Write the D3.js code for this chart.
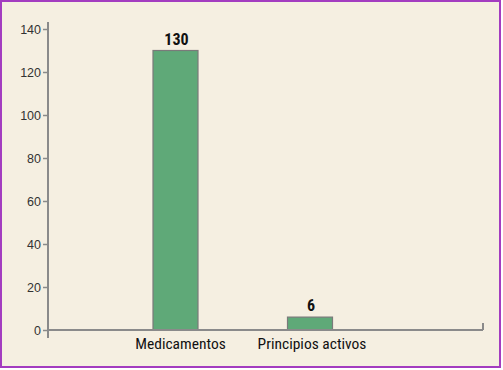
<!DOCTYPE html>
<html><head><meta charset="utf-8">
<script src="https://cdn.jsdelivr.net/npm/d3@7"></script>
<style>
html,body{margin:0;padding:0;background:#fff;}
svg{display:block;}
</style></head>
<body>
<script>
const categories = ["Medicamentos", "Principios activos"];
const values = [130, 6];
const yTicks = [0, 20, 40, 60, 80, 100, 120, 140];

const W = 503, H = 370;
const svg = d3.select("body").append("svg").attr("width", W).attr("height", H);
svg.append("rect").attr("x", 1).attr("y", 1).attr("width", 499).attr("height", 366)
  .attr("fill", "#f5efe1").attr("stroke", "#a33cc0").attr("stroke-width", 2);

const font = "'Liberation Sans Narrow','Arial Narrow','Roboto Condensed',sans-serif";
const y = d3.scaleLinear().domain([0, 140]).range([330, 29]);
const x = d3.scalePoint().domain(categories).range([175.5, 310]);
const barW = 45;
const axisX = 48, axisEnd = 483;

// y axis
const yAxis = svg.append("g").attr("transform", `translate(${axisX},0)`)
  .call(d3.axisLeft(y).tickValues(yTicks).tickSize(5).tickPadding(2).tickFormat(d3.format("d")));
yAxis.select(".domain").remove();
yAxis.selectAll(".tick line").attr("stroke", "#8a8a8a").attr("stroke-width", 1.5);
yAxis.selectAll(".tick text").attr("font-family", "Arial, 'Liberation Sans', sans-serif")
  .attr("font-size", 12.5).attr("fill", "#333");
svg.append("line").attr("x1", axisX).attr("x2", axisX).attr("y1", 22).attr("y2", 338)
  .attr("stroke", "#8a8a8a").attr("stroke-width", 2);

// bars
svg.selectAll(".bar").data(values).enter().append("rect")
  .attr("x", (d, i) => x(categories[i]) - barW / 2)
  .attr("y", d => y(d))
  .attr("width", barW)
  .attr("height", d => y(0) - y(d))
  .attr("fill", "#5fa978").attr("stroke", "#7a7a7a").attr("stroke-width", 1.2);

// x axis
svg.append("line").attr("x1", axisX).attr("x2", axisEnd).attr("y1", y(0)).attr("y2", y(0))
  .attr("stroke", "#8a8a8a").attr("stroke-width", 2);
svg.append("line").attr("x1", axisEnd).attr("x2", axisEnd).attr("y1", y(0) - 7).attr("y2", y(0))
  .attr("stroke", "#8a8a8a").attr("stroke-width", 2);

// value labels
svg.selectAll(".val").data(values).enter().append("text")
  .attr("x", (d, i) => x(categories[i]) + 1)
  .attr("y", d => y(d) - 6)
  .attr("text-anchor", "middle")
  .attr("font-family", font).attr("font-weight", "bold").attr("font-size", 16)
  .attr("fill", "#111").text(d => d);

// category labels
svg.selectAll(".cat").data(categories).enter().append("text")
  .attr("x", (d, i) => x(d) + (i === 0 ? 5 : 2)).attr("y", 349)
  .attr("text-anchor", "middle")
  .attr("font-family", font).attr("font-size", 15.5)
  .attr("fill", "#111").text(d => d);
</script>
</body></html>
